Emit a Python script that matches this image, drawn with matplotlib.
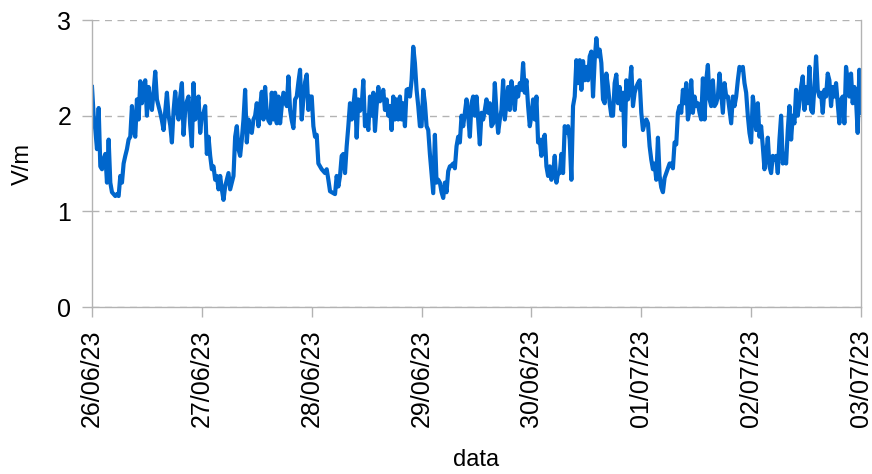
import numpy as np
import pandas as pd
import matplotlib
matplotlib.use("Agg")
import matplotlib.pyplot as plt
import matplotlib.dates as mdates

plt.rcParams["font.family"] = ["Liberation Sans", "DejaVu Sans"]

# field values (V/m), one list per day, ~22 min apart
day1 = [2.30, 2.0, 1.85, 1.65, 2.08, 1.47, 1.44, 1.55, 1.6, 1.3,
        1.75, 1.3, 1.2, 1.18, 1.16, 1.18, 1.16, 1.37, 1.3, 1.5,
        1.58, 1.65, 1.75, 1.78, 2.1, 1.85, 1.78, 2.17, 1.96, 2.36,
        2.13, 2.3, 2.37, 2.0, 2.3, 2.15, 2.06, 2.25, 2.46, 2.17,
        2.1, 2.03, 1.95, 1.85, 2.05, 2.24, 2.0, 1.9, 1.72, 2.05,
        2.25, 2.05, 1.96, 2.2, 2.34, 1.8, 2.06, 2.15, 2.2, 1.9,
        1.68, 2.34, 1.96, 2.1, 2.2, 1.82]
day2 = [2.0, 2.03, 2.1, 1.6, 1.78, 1.58, 1.44, 1.47, 1.33, 1.37,
        1.23, 1.37, 1.23, 1.12, 1.26, 1.33, 1.4, 1.23, 1.3, 1.37,
        1.78, 1.89, 1.65, 1.58, 1.75, 1.96, 2.27, 1.72, 1.96, 1.85,
        1.82, 1.96, 2.0, 2.13, 1.89, 2.1, 2.25, 1.96, 2.3, 2.03,
        1.95, 1.92, 2.24, 1.96, 2.24, 1.92, 2.2, 1.92, 2.1, 2.24,
        2.17, 2.1, 2.41, 2.06, 1.95, 1.87, 2.17, 2.2, 2.35, 2.48,
        1.96, 2.17, 2.35, 2.43, 2.06, 2.2]
day3 = [2.2, 1.89, 1.78, 1.8, 1.5, 1.47, 1.44, 1.42, 1.4, 1.44,
        1.33, 1.21, 1.2, 1.19, 1.18, 1.37, 1.26, 1.37, 1.58, 1.6,
        1.4, 1.68, 1.89, 2.13, 1.96, 2.1, 2.27, 1.77, 2.17, 2.05,
        2.1, 2.37, 1.89, 2.0, 1.85, 2.2, 2.0, 2.24, 1.84, 2.1,
        2.3, 2.15, 2.2, 2.27, 2.06, 2.17, 2.0, 2.1, 1.85, 2.2,
        1.96, 2.17, 1.96, 2.2, 1.96, 2.13, 1.89, 2.27, 2.28, 2.2,
        2.37, 2.72, 2.55, 2.27, 2.1, 1.89]
day4 = [1.89, 2.27, 2.13, 1.89, 1.85, 1.6, 1.4, 1.19, 1.8, 1.3,
        1.33, 1.3, 1.2, 1.14, 1.3, 1.2, 1.42, 1.47, 1.48, 1.5,
        1.45, 1.68, 1.78, 1.72, 2.0, 1.89, 2.03, 2.17, 2.0, 1.78,
        2.13, 2.2, 2.0, 2.2, 1.96, 1.7, 2.03, 1.96, 2.06, 2.17,
        2.03, 2.13, 1.89, 1.92, 2.34, 2.03, 1.82, 1.96, 2.06, 2.37,
        1.96, 2.13, 2.3, 2.06, 2.36, 2.24, 2.06, 2.3, 2.2, 2.34,
        2.27, 2.55, 2.24, 2.37, 2.1, 1.89]
day5 = [2.0, 2.17, 1.96, 2.2, 1.72, 1.75, 1.58, 1.75, 1.8, 1.47,
        1.37, 1.47, 1.33, 1.4, 1.58, 1.3, 1.4, 1.4, 1.6, 1.4,
        1.89, 1.82, 1.89, 1.75, 1.33, 2.1, 2.2, 2.58, 2.34, 2.58,
        2.27, 2.57, 2.37, 2.51, 2.37, 2.62, 2.67, 2.2, 2.58, 2.81,
        2.62, 2.69, 2.55, 2.17, 2.13, 2.44, 2.3, 2.13, 2.0, 2.0,
        2.34, 2.43, 2.13, 2.3, 2.06, 2.24, 1.68, 2.37, 2.17, 2.3,
        2.51, 2.1, 2.24, 2.3, 2.34, 2.37]
day6 = [2.03, 1.85, 1.92, 1.96, 1.92, 1.68, 1.54, 1.44, 1.5, 1.33,
        1.77, 1.37, 1.25, 1.2, 1.35, 1.4, 1.45, 1.5, 1.5, 1.45,
        1.72, 1.7, 2.03, 2.1, 2.03, 2.27, 2.13, 2.34, 1.96, 2.06,
        2.37, 2.03, 2.2, 2.1, 2.13, 2.03, 1.96, 2.39, 1.96, 2.37,
        2.53, 2.17, 2.1, 2.37, 2.1, 2.13, 2.2, 2.44, 2.24, 2.03,
        2.34, 2.2, 2.2, 2.06, 1.92, 2.2, 2.1, 2.2, 2.37, 2.51,
        2.48, 2.51, 2.34, 2.24, 2.0, 1.82]
day7 = [1.72, 2.2, 2.06, 1.85, 2.13, 1.78, 1.89, 1.68, 1.44, 1.58,
        1.77, 1.47, 1.4, 1.58, 1.54, 1.58, 1.4, 1.75, 2.0, 1.5,
        1.6, 1.5, 1.85, 2.1, 1.75, 2.0, 1.92, 2.27, 2.0, 2.13,
        2.3, 2.41, 2.06, 2.3, 2.13, 2.51, 2.06, 2.03, 2.3, 2.62,
        2.27, 2.2, 2.24, 2.03, 2.27, 2.2, 2.44, 2.37, 2.1, 2.3,
        2.2, 2.34, 2.13, 1.92, 2.17, 2.2, 1.92, 2.51, 2.37, 2.2,
        2.44, 2.13, 2.3, 2.17, 1.82, 2.48, 2.03]

values = day1 + day2 + day3 + day4 + day5 + day6 + day7
start = "2023-06-26"
end = "2023-07-03"
times = pd.date_range(start, end, periods=len(values))

yticks = [0, 1, 2, 3]
grey = "#b3b3b3"

fig = plt.figure(figsize=(8.72, 4.74), dpi=100)
ax = fig.add_axes([0.1055, 0.3523, 0.8819, 0.6055])

ax.plot(times, values, color="#0066cc", linewidth=3.0, solid_joinstyle="round")

ax.set_xlim(pd.Timestamp(start), pd.Timestamp(end))
ax.set_ylim(0, 3)
ax.set_yticks(yticks)
ax.xaxis.set_major_locator(mdates.DayLocator())
ax.xaxis.set_major_formatter(mdates.DateFormatter("%d/%m/%y"))
plt.setp(ax.get_xticklabels(), rotation=90, ha="center", va="top")

ax.yaxis.grid(True, color=grey, linestyle=(0, (5, 4)), linewidth=1)
ax.set_axisbelow(True)
ax.spines["top"].set_visible(False)
for s in ["left", "bottom", "right"]:
    ax.spines[s].set_color(grey)
    ax.spines[s].set_linewidth(1)
ax.tick_params(axis="both", colors=grey, length=7, width=1, labelsize=18, labelcolor="black")
ax.tick_params(axis="x", pad=9)
ax.tick_params(axis="y", pad=8)

ax.set_xlabel("data", fontsize=17, labelpad=16)
ax.set_ylabel("V/m", fontsize=17, labelpad=17)

fig.savefig("out.png", dpi=100)
